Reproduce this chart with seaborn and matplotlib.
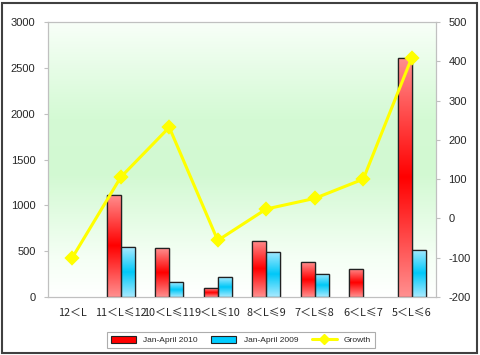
import numpy as np
import pandas as pd
import matplotlib
matplotlib.use("Agg")
import matplotlib.pyplot as plt
import seaborn as sns
from matplotlib.colors import LinearSegmentedColormap
from matplotlib.patches import Patch, Rectangle
from matplotlib.lines import Line2D

categories = ["12＜L", "11＜L≤12", "10＜L≤11", "9＜L≤10", "8＜L≤9", "7＜L≤8", "6＜L≤7", "5＜L≤6"]
sales_2010 = [0, 1115, 531, 95, 614, 378, 309, 2610]
sales_2009 = [0, 542, 160, 218, 494, 251, 0, 513]
growth = [-100, 105, 232, -56, 24, 51, 100, 409]
series_names = ["Jan-April 2010", "Jan-April 2009", "Growth"]
left_ticks = [0, 500, 1000, 1500, 2000, 2500, 3000]
right_ticks = [-200, -100, 0, 100, 200, 300, 400, 500]

sns.set_style("white")
plt.rcParams["font.family"] = ["Liberation Sans", "DejaVu Sans"]

df = pd.DataFrame({
    "cat": categories * 2,
    "value": sales_2010 + sales_2009,
    "series": [series_names[0]] * len(categories) + [series_names[1]] * len(categories),
})

fig = plt.figure(figsize=(4.8, 3.55), dpi=100)
fig.patch.set_facecolor("white")
ax = fig.add_axes([48 / 480, 58 / 355, 388 / 480, 275 / 355])

bg = LinearSegmentedColormap.from_list(
    "bg", [(0, "#ffffff"), (0.15, "#f4fff4"), (0.45, "#d2f9d2"), (0.65, "#d4fad4"),
           (1.0, "#f8fff8")])
grad = np.linspace(0, 1, 256).reshape(-1, 1)
ax.imshow(grad, cmap=bg, aspect="auto", extent=[0, 1, 1, 0],
          transform=ax.transAxes, zorder=0)

red_c = "#ff0000"
blue_c = "#00ccff"
sns.barplot(data=df, x="cat", y="value", hue="series", order=categories,
            hue_order=series_names[:2], palette=[red_c, blue_c], width=0.58,
            edgecolor="#222222", linewidth=0.9, legend=False, ax=ax, zorder=2,
            saturation=1)

red_map = LinearSegmentedColormap.from_list("r", ["#ff9090", "#ff0000", "#ff9090"])
blue_map = LinearSegmentedColormap.from_list("b", ["#a8eaff", "#00c8f8", "#a8eaff"])
ncat = len(categories)
for i, p in enumerate(list(ax.patches)):
    h = p.get_height()
    if h <= 0:
        p.set_visible(False)
        continue
    cmap = red_map if i < ncat else blue_map
    x0, y0, w = p.get_x(), p.get_y(), p.get_width()
    im = ax.imshow(grad, cmap=cmap, aspect="auto", extent=[x0, x0 + w, y0, y0 + h],
                   zorder=2.5)
    im.set_clip_path(p)
    ax.add_patch(Rectangle((x0, y0), w, h, fill=False, edgecolor="#222222",
                           linewidth=0.9, zorder=3))

ax.set_xlim(-0.5, ncat - 0.5)
ax.set_ylim(0, 3000)
ax.set_yticks(left_ticks)
ax.set_yticklabels([str(t) for t in left_ticks], fontsize=8)
ax.set_xlabel("")
ax.set_ylabel("")
ax.set_xticks(range(ncat))
ax.set_xticklabels(categories, fontsize=7.8, family=["Noto Sans CJK SC", "DejaVu Sans"])
ax.set_xticks(np.arange(ncat + 1) - 0.5, minor=True)
ax.tick_params(axis="x", which="major", length=0, pad=8)
ax.tick_params(axis="x", which="minor", length=3, color="#c0c0c0", direction="in")
ax.tick_params(axis="y", length=3, color="#c0c0c0", direction="out", pad=6)
for s in ax.spines.values():
    s.set_color("#c0c0c0")
    s.set_linewidth(0.8)

ax2 = ax.twinx()
sns.pointplot(x=categories, y=growth, order=categories, color="#ffff00", markers="D",
              linestyles="-", ax=ax2, markersize=6, linewidth=2.2, zorder=5)
ax2.set_xlim(-0.5, ncat - 0.5)
ax2.set_ylim(-200, 500)
ax2.set_yticks(right_ticks)
ax2.set_yticklabels([str(t) for t in right_ticks], fontsize=8)
ax2.tick_params(axis="y", length=3, color="#c0c0c0", direction="out", pad=6)
ax2.set_ylabel("")
for s in ax2.spines.values():
    s.set_color("#c0c0c0")
    s.set_linewidth(0.8)

handles = [Patch(facecolor=red_c, edgecolor="#222222", linewidth=0.8),
           Patch(facecolor=blue_c, edgecolor="#222222", linewidth=0.8),
           Line2D([0], [0], color="#ffff00", lw=2.2, marker="D", markersize=5)]
leg = fig.legend(handles, series_names, loc="center", bbox_to_anchor=(241 / 480, 15 / 355),
                 ncol=3, fontsize=6, frameon=True, fancybox=False, edgecolor="#999999",
                 handlelength=3.0, handleheight=0.9, columnspacing=1.6, borderpad=0.45,
                 handletextpad=0.9)
leg.get_frame().set_linewidth(0.8)

fig.patches.append(Rectangle((2 / 480, 2 / 355), 475 / 480, 350 / 355, fill=False,
                             edgecolor="#404040", linewidth=1.5,
                             transform=fig.transFigure, figure=fig))

fig.savefig("out.png", dpi=100)
